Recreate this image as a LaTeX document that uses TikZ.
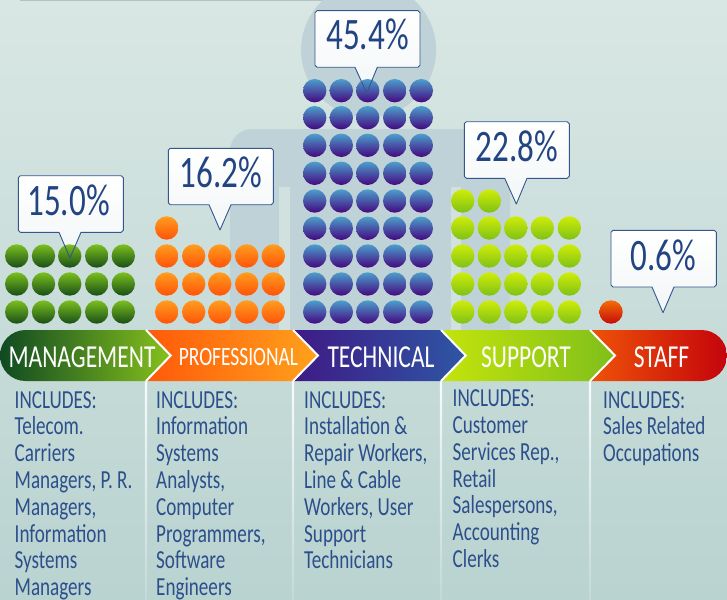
\documentclass[tikz,border=0pt]{standalone}
\usepackage{fontspec}
\setmainfont[FakeStretch=0.735]{Carlito}
\definecolor{ink}{HTML}{2C4F8C}
\definecolor{calink}{HTML}{234483}
\definecolor{coutline}{HTML}{33568F}
\definecolor{bgtop}{HTML}{D9E7E4}
\definecolor{bgbot}{HTML}{B9D3D0}
\definecolor{figc}{HTML}{BFD2D7}
\definecolor{gT}{HTML}{7CBF1E}\definecolor{gB}{HTML}{174E18}
\definecolor{oT}{HTML}{FF9E1E}\definecolor{oB}{HTML}{FF5208}
\definecolor{pT}{HTML}{4C9FCC}\definecolor{pB}{HTML}{44077F}
\definecolor{lT}{HTML}{CFEC08}\definecolor{lB}{HTML}{7FC116}
\definecolor{rT}{HTML}{F46E08}\definecolor{rB}{HTML}{C40B0B}
\definecolor{rgA}{HTML}{0F4A22}\definecolor{rgB}{HTML}{86C01C}
\definecolor{roA}{HTML}{FF5A0A}\definecolor{roB}{HTML}{FFA11C}
\definecolor{rpA}{HTML}{3F1A86}\definecolor{rpB}{HTML}{2E56A4}
\definecolor{rlA}{HTML}{C4E40C}\definecolor{rlB}{HTML}{7FBF1A}
\definecolor{rrA}{HTML}{EE5208}\definecolor{rrB}{HTML}{C4040C}
\tikzset{
  x=1pt,y=-1pt,
  ball/.style n args={2}{top color=#1,bottom color=#2},
  calfill/.style={top color=white,bottom color=white!80!figc},
  incl/.style={anchor=base west,align=left,inner sep=0pt,text=ink,font=\fontsize{26}{26.8}\selectfont},
  ribbonlbl/.style={text=white,inner sep=0pt,anchor=base},
  pct/.style={text=calink,inner sep=0pt,anchor=base,font=\fontsize{45}{45}\selectfont},
  calloutline/.style={draw=coutline,line width=0.9pt,line join=round},
  chev/.style={draw=white,line width=2pt},
  divider/.style={top color=white!90!bgbot,bottom color=white!15!bgbot},
}
\newcommand{\calloutpath}[8]{
  (#1+2,#2) -- (#3-2,#2) -- (#3,#2+2) -- (#3,#4-2) -- (#3-2,#4) -- (#6,#4) -- (#7,#8) -- (#5,#4)
  -- (#1+2,#4) -- (#1,#4-2) -- (#1,#2+2) -- cycle}
\newcommand{\balls}[4]{% ys, xs, top, bottom
  \foreach \yy in {#1}{\foreach \xx in {#2}{\shade[ball={#3}{#4}] (\xx,\yy) circle[radius=11.7];}}}
\begin{document}
\begin{tikzpicture}
\useasboundingbox (0,0) rectangle (727,599);
% background
\shade[top color=bgtop,bottom color=bgbot] (0,0) rectangle (727,599);
\fill[color=figc!50!gray!60!bgtop] (20,0) rectangle (352,1);
% silhouette
\fill[figc] (368.6,50) circle[radius=67.5];
\fill[figc] (230,330) -- (230,151) .. controls (230,138.8) and (239.8,129) .. (252,129) -- (488,129) .. controls (500.2,129) and (510,138.8) .. (510,151) -- (510,330) -- cycle;
\fill[bgtop!70!figc] (279,187) rectangle (290,330);
\fill[bgtop!70!figc] (451,187) rectangle (461,330);
% callout fills
\shade[calfill] \calloutpath{18.3}{175.7}{123.3}{232.3}{59}{81}{70}{258};
\shade[calfill] \calloutpath{168.3}{148.3}{273.3}{204.7}{209}{231}{220}{230};
\shade[calfill] \calloutpath{315}{10.7}{420}{67.3}{355}{377.3}{366.7}{93};
\shade[calfill] \calloutpath{464.3}{121.7}{569.3}{178.3}{504.7}{527}{516.3}{204};
\shade[calfill] \calloutpath{611}{230.3}{716.3}{287}{652}{674}{663}{312.7};
% balls
\balls{256,284,312}{16.7,43.5,69.7,96.7,123.3}{gT}{gB}
\balls{228}{166.7}{oT}{oB}
\balls{256,284,312}{166.7,193.7,219.7,246.7,273.3}{oT}{oB}
\balls{90.7,117.7,145.3,173.3,201,228.3,256,284,312}{314.7,341.3,367.7,394.7,421.3}{pT}{pB}
\balls{201}{462.7,489.3}{lT}{lB}
\balls{228,256,284,312}{462.7,489.3,515.7,542.3,569.3}{lT}{lB}
\balls{312}{611}{rT}{rB}
% callout outlines
\draw[calloutline] \calloutpath{18.3}{175.7}{123.3}{232.3}{59}{81}{70}{258};
\draw[calloutline] \calloutpath{168.3}{148.3}{273.3}{204.7}{209}{231}{220}{230};
\draw[calloutline] \calloutpath{315}{10.7}{420}{67.3}{355}{377.3}{366.7}{93};
\draw[calloutline] \calloutpath{464.3}{121.7}{569.3}{178.3}{504.7}{527}{516.3}{204};
\draw[calloutline] \calloutpath{611}{230.3}{716.3}{287}{652}{674}{663}{312.7};
\node[pct] (p1) at (68.5,215) {15.0\%};
\node[pct] (p2) at (221,187.5) {16.2\%};
\node[pct] (p3) at (367.5,50) {45.4\%};
\node[pct] (p4) at (517,161) {22.8\%};
\node[pct] (p5) at (663,270) {0.6\%};
% dividers
\foreach \dx in {146,293,441,590}{\shade[divider] (\dx-1.2,381) rectangle (\dx+1.2,599);}
% ribbon
\shade[left color=rrA,right color=rrB] (590.7,330) -- (701.5,330) .. controls (715.6,330) and (727,341.4) .. (727,355.5) .. controls (727,369.6) and (715.6,381) .. (701.5,381) -- (590.7,381) -- (615,355.5) -- cycle;
\shade[left color=rlA,right color=rlB] (440.7,330) -- (590.7,330) -- (615,355.5) -- (590.7,381) -- (440.7,381) -- (465.7,355.5) -- cycle;
\shade[left color=rpA,right color=rpB] (293.3,330) -- (440.7,330) -- (465.7,355.5) -- (440.7,381) -- (293.3,381) -- (318,355.5) -- cycle;
\shade[left color=roA,right color=roB] (146.7,330) -- (293.3,330) -- (318,355.5) -- (293.3,381) -- (146.7,381) -- (170.7,355.5) -- cycle;
\shade[left color=rgA,right color=rgB] (25.5,330) -- (146.7,330) -- (170.7,355.5) -- (146.7,381) -- (25.5,381) .. controls (11.4,381) and (0,369.6) .. (0,355.5) .. controls (0,341.4) and (11.4,330) .. (25.5,330) -- cycle;
\draw[chev] (146,330) -- (170.7,355.5) -- (146,381);
\draw[chev] (293,330) -- (318,355.5) -- (293,381);
\draw[chev] (441,330) -- (465.7,355.5) -- (441,381);
\draw[chev] (590,330) -- (615,355.5) -- (590,381);
\node[ribbonlbl,font=\fontsize{32}{32}\selectfont] (r1) at (82,367) {MANAGEMENT};
\node[ribbonlbl,font=\fontsize{26.5}{26.5}\selectfont] (r2) at (238.5,365) {PROFESSIONAL};
\node[ribbonlbl,font=\fontsize{32}{32}\selectfont] (r3) at (381,367) {TECHNICAL};
\node[ribbonlbl,font=\fontsize{32}{32}\selectfont] (r4) at (526,367) {SUPPORT};
\node[ribbonlbl,font=\fontsize{32}{32}\selectfont] (r5) at (661.5,367) {STAFF};
% columns
\node[incl] (c1) at (14.5,595.6) {INCLUDES:\\Telecom.\\Carriers\\Managers, P. R.\\Managers,\\Information\\Systems\\Managers};
\node[incl] (c2) at (156,595.6) {INCLUDES:\\Information\\Systems\\Analysts,\\Computer\\Programmers,\\Software\\Engineers};
\node[incl] (c3) at (304,568.8) {INCLUDES:\\Installation \&\\Repair Workers,\\Line \& Cable\\Workers, User\\Support\\Technicians};
\node[incl] (c4) at (452.5,567.5) {INCLUDES:\\Customer\\Services Rep.,\\Retail\\Salespersons,\\Accounting\\Clerks};
\node[incl] (c5) at (603,461.6) {INCLUDES:\\Sales Related\\Occupations};
\end{tikzpicture}
\end{document}
